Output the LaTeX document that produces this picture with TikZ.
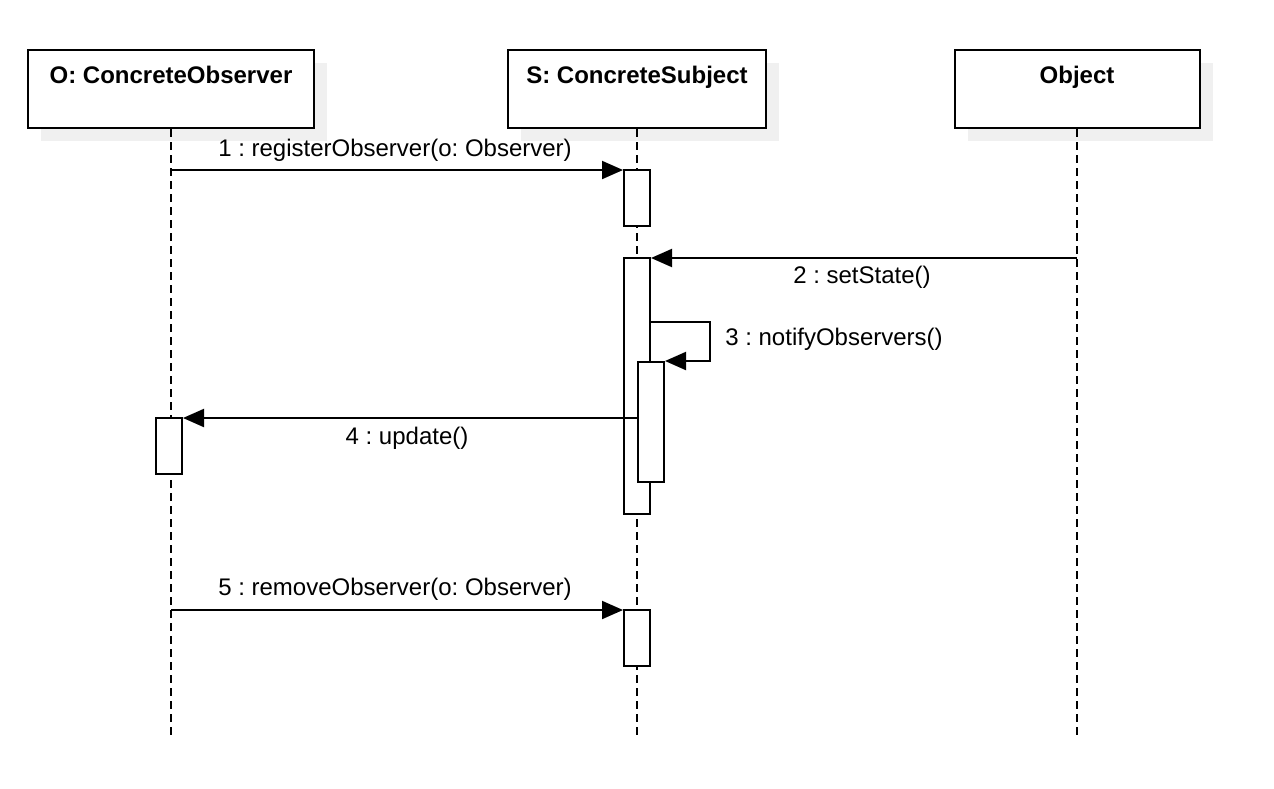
\documentclass[tikz,border=0pt]{standalone}
\usepackage{fontspec}
\setmainfont{Liberation Sans}
\usepackage{tikz}
\usetikzlibrary{arrows.meta,shadows}
\frenchspacing
\tikzset{
    every node/.style={font=\fontsize{12}{14}\selectfont, inner sep=0pt}
}
\tikzset{
    lifehead/.style={rectangle, draw, fill=white, line width=1pt,
    	minimum height=39pt, text height=16.5pt, text depth=22.5pt,
    	font=\fontsize{12}{14}\selectfont\bfseries,
    	general shadow={fill=black!6, draw=none,
    	shadow xshift=6.5pt, shadow yshift=-6.5pt}},
    activation/.style={rectangle, draw, fill=white, line width=1pt,
    	minimum width=13pt},
    lifeline/.style={dash pattern=on 4pt off 2.5pt, line width=1pt},
    message/.style={-{Triangle[length=10.5pt, width=9pt]}, line width=1pt}
}

\begin{document}
\begin{tikzpicture}[x=0.5pt, y=-0.5pt]
	\useasboundingbox (0,0) rectangle (1274,788);
	% lifeline heads
	\node (observer) [lifehead, minimum width=143pt] at ( 171, 89) {O: ConcreteObserver};
	\node (subject)  [lifehead, minimum width=129pt] at ( 637, 89) {S: ConcreteSubject};
	\node (object)   [lifehead, minimum width=122.5pt] at (1077, 89) {Object};
	\coordinate (observerend) at ( 171, 735);
	\coordinate (subjectend)  at ( 637, 735);
	\coordinate (objectend)   at (1077, 735);
	\draw[lifeline] (observer) -- (observerend);
	\draw[lifeline] (subject) -- (subjectend);
	\draw[lifeline] (object) -- (objectend);
	% activations
	\node (act1) [activation, minimum height=28pt] at (637, 198) {};
	\node (act2) [activation, minimum height=128pt] at (637, 386) {};
	\node (act3) [activation, minimum height=60pt] at (651, 422) {};
	\node (act4) [activation, minimum height=28pt] at (169, 446) {};
	\node (act5) [activation, minimum height=28pt] at (637, 638) {};
	% messages
	\coordinate (m1) at ( 171, 170);
	\coordinate (m2) at (1077, 258);
	\coordinate (m3) at ( 710, 322);
	\coordinate (m4) at ( 171, 418);
	\coordinate (m5) at ( 171, 610);
	\draw[message] (m1) -- (act1.west |- m1);
	\draw[message] (m2) -- (act2.east |- m2);
	\draw[message] (act2.east |- m3) -- (m3) |- (act3.north east);
	\draw[message] (act3.west |- m4) -- (act4.east |- m4);
	\draw[message] (m5) -- (act5.west |- m5);
	\node (lbl1) at (395, 150) {1 : registerObserver(o: Observer)};
	\node (lbl2) at (862, 277) {2 : setState()};
	\node (lbl3) at (834, 339) {3 : notifyObservers()};
	\node (lbl4) at (407, 438) {4 : update()};
	\node (lbl5) at (395, 589) {5 : removeObserver(o: Observer)};
\end{tikzpicture}
\end{document}
